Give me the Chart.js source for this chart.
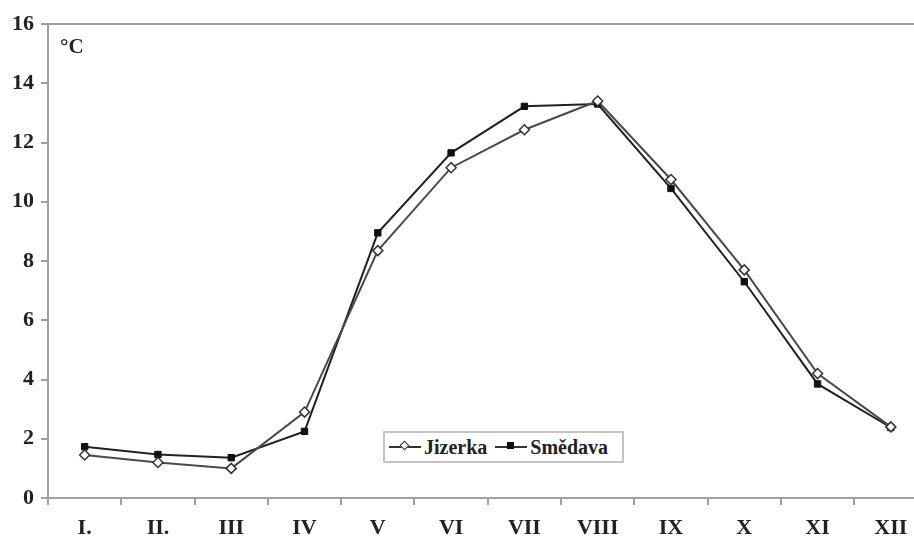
<!DOCTYPE html>
<html>
<head>
<meta charset="utf-8">
<script src="https://cdn.jsdelivr.net/npm/chart.js@4.4.0/dist/chart.umd.min.js"></script>
<style>
  body { margin: 0; background: #fff; overflow: hidden; }
  #wrap { position: absolute; left: 0; top: 0; width: 934px; height: 543px; }
  #unit { position: absolute; left: 60px; top: 34px; font: bold 21px "Liberation Serif", serif; color: #222; }
  #legend { position: absolute; left: 383px; top: 431px; width: 237px; height: 28px;
            border: 2px solid #c4c4c4; background: #fff;
            font: bold 20px "Liberation Serif", serif; color: #222;
            display: flex; align-items: center; }
  .item { display: flex; align-items: center; margin-left: 4px; }
  .sample { position: relative; width: 32px; height: 2px; background: #333; margin-right: 3px; }
  .sample i { position: absolute; left: 12px; top: -4px; width: 7px; height: 7px; box-sizing: border-box; }
  .open i { background: #fff; border: 1.5px solid #333; transform: rotate(45deg); }
  .filled i { background: #111; }
</style>
</head>
<body>
<div id="wrap"><canvas id="myChart"></canvas></div>
<div id="unit">°C</div>
<div id="legend">
  <span class="item"><span class="sample open"><i></i></span>Jizerka</span>
  <span class="item" style="margin-left:8px"><span class="sample filled"><i></i></span>Smědava</span>
</div>
<script>
  // Mesice (osa x)
  const months = ['I.', 'II.', 'III', 'IV', 'V', 'VI', 'VII', 'VIII', 'IX', 'X', 'XI', 'XII'];
  // Prumerne teploty (°C)
  const jizerka = [1.45, 1.2, 1.0, 2.9, 8.35, 11.15, 12.43, 13.4, 10.75, 7.7, 4.2, 2.4];
  const smedava = [1.73, 1.47, 1.36, 2.25, 8.95, 11.65, 13.22, 13.3, 10.45, 7.3, 3.85, 2.38];
  const yTicks = [0, 2, 4, 6, 8, 10, 12, 14, 16];

  const axisGray = '#a0a0a0';
  const tickFont = { family: '"Liberation Serif", serif', size: 22, weight: 'bold' };

  // horni a prava cara ramecku
  const frame = {
    id: 'frame',
    beforeDatasetsDraw(chart) {
      const a = chart.chartArea, c = chart.ctx;
      c.save();
      c.strokeStyle = axisGray;
      c.lineWidth = 2;
      c.beginPath();
      c.moveTo(a.left, a.top);
      c.lineTo(a.right, a.top);
      c.lineTo(a.right, a.bottom);
      c.stroke();
      c.restore();
    }
  };

  const ctx = document.getElementById('myChart').getContext('2d');
  new Chart(ctx, {
    type: 'line',
    data: {
      labels: months,
      datasets: [
        {
          label: 'Jizerka',
          data: jizerka,
          borderColor: '#4a4a4a',
          borderWidth: 2,
          pointStyle: 'rectRot',
          pointRadius: 5,
          pointBackgroundColor: '#fff',
          pointBorderColor: '#333',
          pointBorderWidth: 1.5,
          tension: 0
        },
        {
          label: 'Smědava',
          data: smedava,
          borderColor: '#222',
          borderWidth: 2,
          pointStyle: 'rect',
          pointRadius: 4.5,
          pointBackgroundColor: '#111',
          pointBorderColor: '#111',
          pointBorderWidth: 1,
          tension: 0
        }
      ]
    },
    options: {
      responsive: true,
      maintainAspectRatio: false,
      animation: false,
      layout: { padding: { top: 24, right: 4, left: 0, bottom: 0 } },
      plugins: { legend: { display: false }, tooltip: { enabled: false } },
      scales: {
        x: {
          offset: true,
          grid: { display: true, drawOnChartArea: false, offset: true, color: axisGray, lineWidth: 2, tickLength: 7 },
          border: { color: axisGray, width: 2 },
          ticks: { color: '#222', font: tickFont, padding: 10, maxRotation: 0 },
          afterFit: s => { s.height = 45; }
        },
        y: {
          min: 0,
          max: 16,
          afterBuildTicks: s => { s.ticks = yTicks.map(v => ({ value: v })); },
          grid: { display: true, drawOnChartArea: false, color: axisGray, lineWidth: 2, tickLength: 7 },
          border: { color: axisGray, width: 2 },
          ticks: { color: '#222', font: tickFont, padding: 7 },
          afterFit: s => { s.width = 48; }
        }
      }
    },
    plugins: [frame]
  });
</script>
</body>
</html>
